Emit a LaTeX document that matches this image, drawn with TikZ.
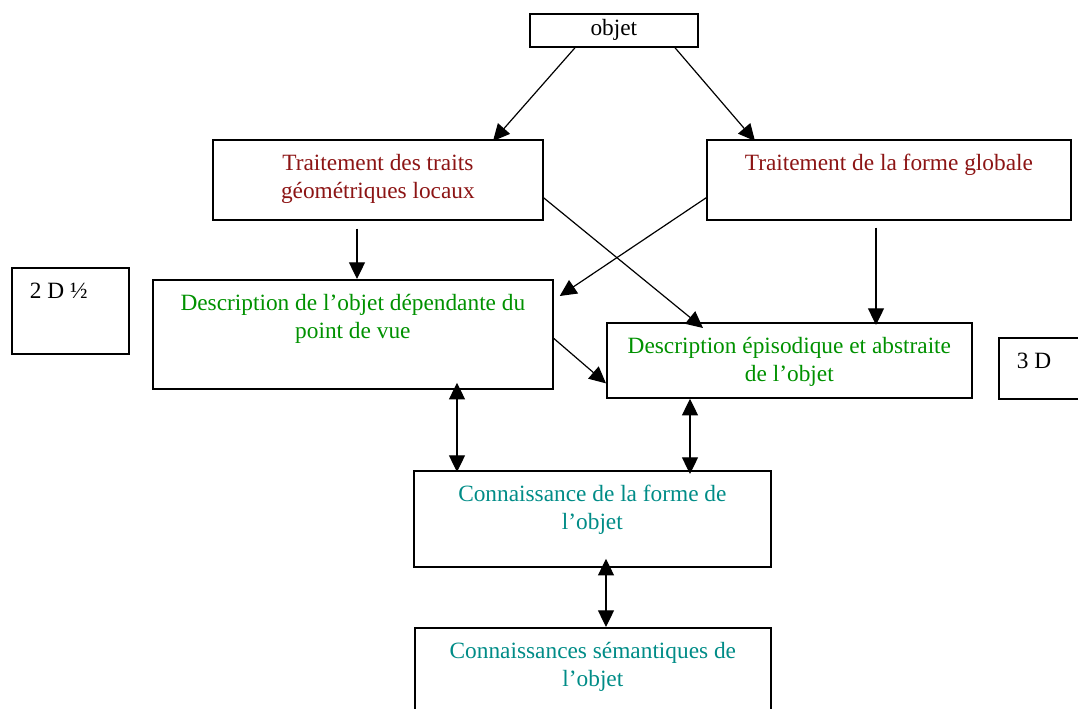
\documentclass[tikz,border=0pt]{standalone}
\usepackage{fontspec}
\setmainfont{Liberation Serif}
\usetikzlibrary{arrows.meta, positioning, calc}
\newlength{\px}
\setlength{\px}{0.75pt}
\definecolor{rouge}{RGB}{140,20,20}
\definecolor{vert}{RGB}{0,145,0}
\definecolor{bleuvert}{RGB}{0,140,135}
\newcommand{\boite}[3]{\parbox[c][#2\px][t]{#1\px}{\centering\rule{0pt}{31\px}#3}}
\newcommand{\boiteg}[3]{\parbox[c][#2\px][t]{#1\px}{\raggedright\hspace*{18\px}\rule{0pt}{31\px}#3}}
\tikzset{%
	bloc/.style={draw, line width=1.3pt, rectangle, inner sep=0pt, anchor=north west},
	fleche/.style={-{Triangle[length=12.5pt, width=12pt]}, line width=0.9pt},
	dfleche/.style={{Triangle[length=12.5pt, width=12pt]}-{Triangle[length=12.5pt, width=12pt]}, line width=0.9pt}
}

\begin{document}
\begin{tikzpicture}[x=0.75pt, y=-0.75pt, font=\fontsize{17.5}{21}\selectfont]
	\clip (0,0) rectangle (1078,708);

	\node[bloc, minimum width=168\px, minimum height=33\px] (objet) at (529,13) {objet};
	\node[bloc, text=rouge] (locaux)  at (212,139) {\boite{330}{80}{Traitement des traits\\géométriques locaux}};
	\node[bloc, text=rouge] (globale) at (706,139) {\boite{364}{80}{Traitement de la forme globale}};
	\node[bloc] (dimdeux) at (11,267) {\boiteg{117}{86}{2 D ½}};
	\node[bloc, text=vert] (dependante) at (152,279) {\boite{400}{109}{Description de l’objet dépendante du\\point de vue}};
	\node[bloc, text=vert] (episodique) at (606,322) {\boite{365}{75}{Description épisodique et abstraite\\de l’objet}};
	\node[bloc] (dimtrois) at (998,337) {\boiteg{100}{61}{3 D}};
	\node[bloc, text=bleuvert] (forme) at (413,470) {\boite{357}{96}{Connaissance de la forme de\\l’objet}};
	\node[bloc, text=bleuvert] (semantique) at (414,627) {\boite{356}{100}{Connaissances sémantiques de\\l’objet}};

	% traitements
	\draw[fleche] ([xshift=46\px]objet.south west) -- ([xshift=281\px, yshift=-2\px]locaux.north west);
	\draw[fleche] ([xshift=146\px]objet.south west) -- ([xshift=49\px, yshift=-2\px]globale.north west);
	\draw[fleche] ([xshift=145\px, yshift=-8\px]locaux.south west) -- ([xshift=205\px]dependante.north west);
	\draw[fleche] ([xshift=170\px, yshift=-7\px]globale.south west) -- ([xshift=270\px, yshift=-3\px]episodique.north west);
	\draw[fleche] ([yshift=-18\px]locaux.east) -- ([xshift=97\px, yshift=-6\px]episodique.north west);
	\draw[fleche] ([yshift=-18\px]globale.west) -- ([xshift=6\px, yshift=-17\px]dependante.north east);
	\draw[fleche] ([yshift=-4\px]dependante.east) -- ([yshift=-23\px]episodique.west);

	% connaissances
	\draw[dfleche] ([xshift=305\px, yshift=7\px]dependante.south west) -- ([xshift=44\px, yshift=-2\px]forme.north west);
	\draw[dfleche] ([xshift=84\px]episodique.south west) -- ([xshift=277\px, yshift=-4\px]forme.north west);
	\draw[dfleche] ([xshift=193\px, yshift=9\px]forme.south west) -- ([xshift=192\px]semantique.north west);
\end{tikzpicture}
\end{document}
